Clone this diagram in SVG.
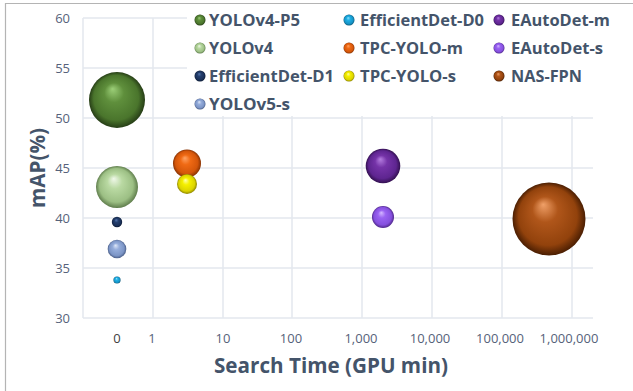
<svg xmlns="http://www.w3.org/2000/svg" width="633" height="391" viewBox="0 0 633 391">
<defs>
<style>
.grid{stroke:#e3e7ee;stroke-width:1.5;fill:none}
.tick{font-family:"Open Sans","Liberation Sans",sans-serif;font-size:13px;fill:#56627a}
.leg{font-family:"Open Sans","Liberation Sans",sans-serif;font-size:15.5px;font-weight:bold;fill:#44546a}
.title{font-family:"Open Sans","Liberation Sans",sans-serif;font-size:21px;font-weight:bold;fill:#44546a}
</style>
<radialGradient id="gP5" cx="0.5" cy="0.5" r="0.5" fx="0.42" fy="0.3"><stop offset="0" stop-color="#9ccf78"/><stop offset="0.35" stop-color="#5f8f3c"/><stop offset="0.8" stop-color="#4a752c"/><stop offset="1" stop-color="#263d16"/></radialGradient>
<radialGradient id="gV4" cx="0.5" cy="0.5" r="0.5" fx="0.42" fy="0.3"><stop offset="0" stop-color="#f0f8ea"/><stop offset="0.35" stop-color="#b9d9a2"/><stop offset="0.8" stop-color="#9cbf84"/><stop offset="1" stop-color="#5f7d4c"/></radialGradient>
<radialGradient id="gD1" cx="0.5" cy="0.5" r="0.5" fx="0.42" fy="0.3"><stop offset="0" stop-color="#5677b0"/><stop offset="0.35" stop-color="#25406f"/><stop offset="0.8" stop-color="#1a3058"/><stop offset="1" stop-color="#0c1a33"/></radialGradient>
<radialGradient id="gV5" cx="0.5" cy="0.5" r="0.5" fx="0.42" fy="0.3"><stop offset="0" stop-color="#dfe8f8"/><stop offset="0.35" stop-color="#95addb"/><stop offset="0.8" stop-color="#7c95c6"/><stop offset="1" stop-color="#4a5e88"/></radialGradient>
<radialGradient id="gD0" cx="0.5" cy="0.5" r="0.5" fx="0.42" fy="0.3"><stop offset="0" stop-color="#8fe0fb"/><stop offset="0.35" stop-color="#1fb0e6"/><stop offset="0.8" stop-color="#1592c4"/><stop offset="1" stop-color="#0a5a7c"/></radialGradient>
<radialGradient id="gTm" cx="0.5" cy="0.5" r="0.5" fx="0.42" fy="0.3"><stop offset="0" stop-color="#ffa364"/><stop offset="0.35" stop-color="#f06a14"/><stop offset="0.8" stop-color="#d4560a"/><stop offset="1" stop-color="#8a3404"/></radialGradient>
<radialGradient id="gTs" cx="0.5" cy="0.5" r="0.5" fx="0.42" fy="0.3"><stop offset="0" stop-color="#ffffb0"/><stop offset="0.35" stop-color="#f5f000"/><stop offset="0.8" stop-color="#dcd400"/><stop offset="1" stop-color="#8c8400"/></radialGradient>
<radialGradient id="gEm" cx="0.5" cy="0.5" r="0.5" fx="0.42" fy="0.3"><stop offset="0" stop-color="#b57ee0"/><stop offset="0.35" stop-color="#7533a8"/><stop offset="0.8" stop-color="#5e2590"/><stop offset="1" stop-color="#331050"/></radialGradient>
<radialGradient id="gEs" cx="0.5" cy="0.5" r="0.5" fx="0.42" fy="0.3"><stop offset="0" stop-color="#d4b8ff"/><stop offset="0.35" stop-color="#9a62f2"/><stop offset="0.8" stop-color="#8550de"/><stop offset="1" stop-color="#50288c"/></radialGradient>
<radialGradient id="gNF" cx="0.5" cy="0.5" r="0.5" fx="0.42" fy="0.3"><stop offset="0" stop-color="#f0a068"/><stop offset="0.35" stop-color="#b0561a"/><stop offset="0.8" stop-color="#92420c"/><stop offset="1" stop-color="#4a1e02"/></radialGradient>
</defs>
<rect x="0" y="0" width="633" height="391" fill="#ffffff"/>
<path d="M5.5 391 V3.5 H640" fill="none" stroke="#b4b4b4" stroke-width="1.2"/>
<g id="grid">
<path class="grid" d="M83 18H593M83 68H593M83 118H593M83 168H593M83 218H593M83 268H593M83 318H593"/>
<path class="grid" d="M83 18V318M153 18V318M223 18V318M292 18V318M362 18V318M432 18V318M502 18V318M572 18V318"/>
</g>
<g id="yticks" class="tick" text-anchor="end">
<text x="70" y="23">60</text><text x="70" y="73">55</text><text x="70" y="123">50</text><text x="70" y="173">45</text><text x="70" y="223">40</text><text x="70" y="273">35</text><text x="70" y="323">30</text>
</g>
<g id="xticks" class="tick" text-anchor="middle">
<text x="117" y="343" fill="#404040">0</text><text x="152" y="343">1</text><text x="223" y="343">10</text><text x="291" y="343">100</text><text x="361" y="343">1,000</text><text x="430" y="343">10,000</text><text x="500" y="343">100,000</text><text x="569" y="343">1,000,000</text>
</g>
<text class="title" transform="translate(45 168) rotate(-90)" text-anchor="middle" textLength="80" lengthAdjust="spacingAndGlyphs">mAP(%)</text>
<text class="title" x="214" y="373" textLength="234" lengthAdjust="spacingAndGlyphs">Search Time (GPU min)</text>
<g id="bubbles">
<circle id="b-yolov4-p5" cx="117" cy="100" r="28" fill="url(#gP5)"/>
<circle id="b-effdet-d0" cx="117" cy="280" r="3.6" fill="url(#gD0)"/>
<circle id="b-eautodet-m" cx="383" cy="166" r="17.3" fill="url(#gEm)"/>
<circle id="b-yolov4" cx="117" cy="187" r="21" fill="url(#gV4)"/>
<circle id="b-tpc-yolo-m" cx="187" cy="163.5" r="14" fill="url(#gTm)"/>
<circle id="b-eautodet-s" cx="383" cy="217" r="11" fill="url(#gEs)"/>
<circle id="b-effdet-d1" cx="117" cy="222" r="5.2" fill="url(#gD1)"/>
<circle id="b-tpc-yolo-s" cx="187" cy="184" r="10" fill="url(#gTs)"/>
<circle id="b-nas-fpn" cx="549" cy="219" r="36.5" fill="url(#gNF)"/>
<circle id="b-yolov5-s" cx="117" cy="249" r="9.3" fill="url(#gV5)"/>
</g>
<g id="legend">
<rect x="187" y="9" width="420" height="107" fill="#ffffff"/>
<g id="l-yolov4-p5"><circle cx="200" cy="20" r="5.5" fill="url(#gP5)"/><text class="leg" x="209" y="26" textLength="91" lengthAdjust="spacingAndGlyphs">YOLOv4-P5</text></g>
<g id="l-yolov4"><circle cx="200" cy="48" r="5.5" fill="url(#gV4)"/><text class="leg" x="209" y="54" textLength="64" lengthAdjust="spacingAndGlyphs">YOLOv4</text></g>
<g id="l-effdet-d1"><circle cx="200" cy="76" r="5.5" fill="url(#gD1)"/><text class="leg" x="209" y="81.5" textLength="125" lengthAdjust="spacingAndGlyphs">EfficientDet-D1</text></g>
<g id="l-yolov5-s"><circle cx="200" cy="104" r="5.5" fill="url(#gV5)"/><text class="leg" x="209" y="109.5" textLength="81" lengthAdjust="spacingAndGlyphs">YOLOv5-s</text></g>
<g id="l-effdet-d0"><circle cx="349" cy="20" r="5.5" fill="url(#gD0)"/><text class="leg" x="360" y="26" textLength="124" lengthAdjust="spacingAndGlyphs">EfficientDet-D0</text></g>
<g id="l-tpc-yolo-m"><circle cx="349" cy="48" r="5.5" fill="url(#gTm)"/><text class="leg" x="360" y="54" textLength="103" lengthAdjust="spacingAndGlyphs">TPC-YOLO-m</text></g>
<g id="l-tpc-yolo-s"><circle cx="349" cy="76" r="5.5" fill="url(#gTs)"/><text class="leg" x="360" y="81.5" textLength="96" lengthAdjust="spacingAndGlyphs">TPC-YOLO-s</text></g>
<g id="l-eautodet-m"><circle cx="499" cy="20" r="5.5" fill="url(#gEm)"/><text class="leg" x="511" y="26" textLength="99" lengthAdjust="spacingAndGlyphs">EAutoDet-m</text></g>
<g id="l-eautodet-s"><circle cx="499" cy="48" r="5.5" fill="url(#gEs)"/><text class="leg" x="511" y="54" textLength="92" lengthAdjust="spacingAndGlyphs">EAutoDet-s</text></g>
<g id="l-nas-fpn"><circle cx="499" cy="76" r="5.5" fill="url(#gNF)"/><text class="leg" x="511" y="81.5" textLength="71" lengthAdjust="spacingAndGlyphs">NAS-FPN</text></g>
</g>
</svg>
